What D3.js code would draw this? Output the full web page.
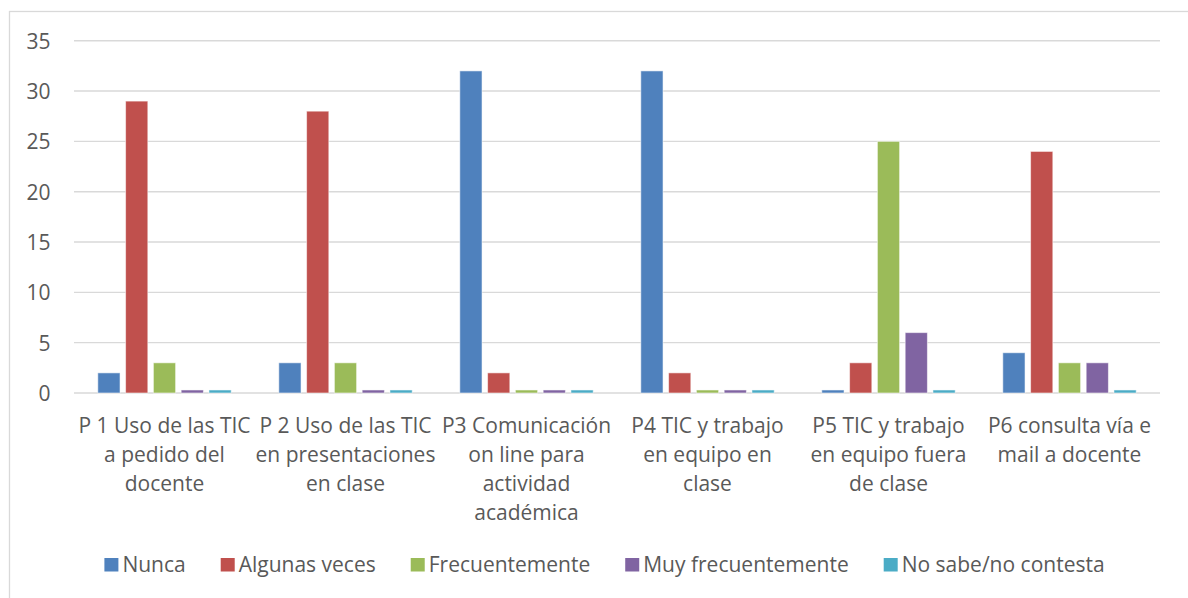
<!DOCTYPE html>
<html>
<head>
<meta charset="utf-8">
<script src="https://cdn.jsdelivr.net/npm/d3@7"></script>
<style>
  html, body { margin: 0; padding: 0; background: #fff; }
  svg { display: block; }
  text { font-family: "Open Sans", "Noto Sans", sans-serif; fill: #595959; }
</style>
</head>
<body>
<svg id="chart" width="1188" height="598"></svg>
<script>
// ---- data ----
const categories = [
  "P 1 Uso de las TIC\na pedido del\ndocente",
  "P 2 Uso de las TIC\nen presentaciones\nen clase",
  "P3 Comunicación\non line para\nactividad\nacadémica",
  "P4 TIC y trabajo\nen equipo en\nclase",
  "P5 TIC y trabajo\nen equipo fuera\nde clase",
  "P6 consulta vía e\nmail a docente"
];
const seriesNames = ["Nunca", "Algunas veces", "Frecuentemente", "Muy frecuentemente", "No sabe/no contesta"];
const nunca            = [2, 3, 32, 32, 0.3, 4];
const algunasVeces     = [29, 28, 2, 2, 3, 24];
const frecuentemente   = [3, 3, 0.3, 0.3, 25, 3];
const muyFrecuente     = [0.3, 0.3, 0.3, 0.3, 6, 3];
const noSabe           = [0.3, 0.3, 0.3, 0.3, 0.3, 0.3];
const yTicks = [0, 5, 10, 15, 20, 25, 30, 35];
const colors = ["#4F81BD", "#C0504D", "#9BBB59", "#8064A2", "#4BACC6"];

const seriesValues = [nunca, algunasVeces, frecuentemente, muyFrecuente, noSabe];

// ---- layout ----
const svg = d3.select("#chart");
const plot = { left: 74, right: 1160, top: 40.7, bottom: 393 };
const fontSize = 21;

// chart frame (extends beyond the visible area on right/bottom)
svg.append("rect")
  .attr("x", 9.5).attr("y", 11.5)
  .attr("width", 1300).attr("height", 700)
  .attr("fill", "none").attr("stroke", "#D9D9D9").attr("stroke-width", 1.3);

const x0 = d3.scaleBand().domain(d3.range(categories.length))
  .range([plot.left, plot.right]).paddingInner(0.263).paddingOuter(0.1315);
const x1 = d3.scaleBand().domain(d3.range(seriesNames.length))
  .range([0, x0.bandwidth()]).paddingInner(0.2).paddingOuter(0);
const y = d3.scaleLinear().domain([0, 35]).range([plot.bottom, plot.top]);

// gridlines
const yAxis = d3.axisLeft(y).tickValues(yTicks).tickSize(0).tickPadding(0);
const gy = svg.append("g").attr("transform", `translate(${plot.left},0)`);
gy.append("g").selectAll("line").data(yTicks).join("line")
  .attr("x1", 0).attr("x2", plot.right - plot.left)
  .attr("y1", d => y(d)).attr("y2", d => y(d))
  .attr("stroke", "#D9D9D9").attr("stroke-width", 1.4);
const ya = gy.append("g").attr("transform", "translate(-23.5,0)").call(yAxis);
ya.select(".domain").remove();
ya.selectAll("text").attr("font-size", fontSize).attr("fill", "#595959")
  .attr("font-family", '"Open Sans", sans-serif').attr("dy", "0.36em");

// bars
const groups = svg.append("g").selectAll("g").data(categories).join("g")
  .attr("transform", (d, i) => `translate(${x0(i)},0)`);
groups.selectAll("rect")
  .data((d, i) => seriesValues.map((s, j) => ({ j, v: s[i] })))
  .join("rect")
  .attr("x", d => x1(d.j))
  .attr("width", x1.bandwidth())
  .attr("y", d => y(d.v))
  .attr("height", d => y(0) - y(d.v))
  .attr("fill", d => colors[d.j])
  .attr("stroke", "rgba(255,255,255,0.55)").attr("stroke-width", 1);

// x axis labels
const xa = d3.axisBottom(x0).tickSize(0).tickFormat(() => "");
const gx = svg.append("g").attr("transform", `translate(0,${plot.bottom})`).call(xa);
gx.select(".domain").remove();
const lblG = svg.append("g");
categories.forEach((c, i) => {
  const cxp = x0(i) + x0.bandwidth() / 2;
  const t = lblG.append("text")
    .attr("x", cxp)
    .attr("y", 432.5)
    .attr("text-anchor", "middle")
    .attr("font-size", fontSize);
  c.split("\n").forEach((line, k) => {
    t.append("tspan").attr("x", cxp)
      .attr("y", 432.5 + k * 29.3).text(line);
  });
});

// legend
const leg = svg.append("g");
const items = [];
seriesNames.forEach((n, j) => {
  const g = leg.append("g");
  g.append("rect").attr("x", 0).attr("y", 558).attr("width", 14).attr("height", 13.5)
    .attr("fill", colors[j]);
  const t = g.append("text").attr("x", 18).attr("y", 572)
    .attr("font-size", fontSize).text(n);
  const w = 18 + t.node().getComputedTextLength();
  items.push({ g, w });
});
const gap = 35;
const total = d3.sum(items, d => d.w) + gap * (items.length - 1);
let cx = 604.5 - total / 2;
items.forEach(it => {
  it.g.attr("transform", `translate(${cx},0)`);
  cx += it.w + gap;
});
</script>
</body>
</html>
